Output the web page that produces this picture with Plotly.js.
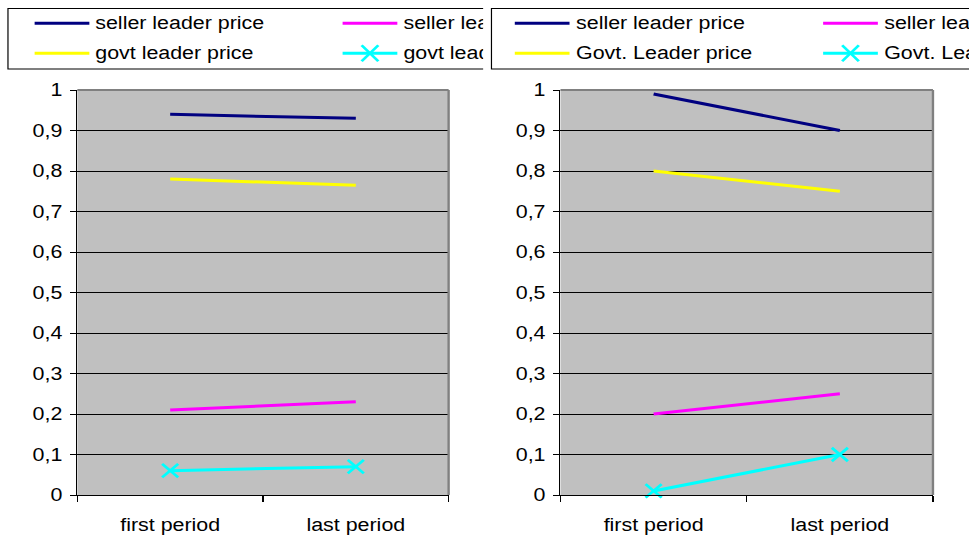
<!DOCTYPE html>
<html>
<head>
<meta charset="utf-8">
<script src="https://cdn.plot.ly/plotly-3.0.1.min.js"></script>
<style>
  html, body { margin: 0; padding: 0; background: #ffffff; overflow: hidden; }
  /* Both panels are laid out in a narrower frame and widened together. */
  #wrap { position: absolute; left: 0; top: 0; width: 815px; height: 537px;
          transform: scaleX(1.19); transform-origin: 0 0; }
  #left  { position: absolute; left: 0;     top: 0; width: 406px; height: 537px; }
  #right { position: absolute; left: 406px; top: 0; width: 410px; height: 537px; }
</style>
</head>
<body>
<div id="wrap"><div id="left"></div><div id="right"></div></div>
<script>
// ---- data ----
const periods = ['first period', 'last period'];

const leftNames  = ['seller leader price', 'seller leader qty', 'govt leader price', 'govt leader qty'];
const rightNames = ['seller leader price', 'seller leader qty', 'Govt. Leader price', 'Govt. Leader qty'];

const leftSellerPrice = [0.94, 0.93];
const leftSellerQty   = [0.21, 0.23];
const leftGovtPrice   = [0.78, 0.765];
const leftGovtQty     = [0.06, 0.07];

const rightSellerPrice = [0.99, 0.90];
const rightSellerQty   = [0.20, 0.25];
const rightGovtPrice   = [0.80, 0.75];
const rightGovtQty     = [0.01, 0.10];

const yTicks = [0, 0.1, 0.2, 0.3, 0.4, 0.5, 0.6, 0.7, 0.8, 0.9, 1];

// ---- styling ----
const seriesColors = ['#000080', '#ff00ff', '#ffff00', '#00ffff'];
const FONT = 'Liberation Sans, Arial, sans-serif';
const FS = 18;
const H = 537, PLOT_TOP = 90, PLOT_BOTTOM = 495;

function drawPanel(divId, names, values, g) {
  const plotW = g.plotW;
  const px = x => (x - g.l) / plotW;                            // frame px -> paper x
  const py = y => (PLOT_BOTTOM - y) / (PLOT_BOTTOM - PLOT_TOP); // frame px -> paper y

  const traces = values.map((v, i) => ({
    type: 'scatter',
    mode: i === 3 ? 'lines+markers' : 'lines',
    name: names[i],
    x: periods,
    y: v,
    line: { color: seriesColors[i], width: 3 },
    marker: { symbol: 'x-thin', size: 13.5, color: seriesColors[i],
              line: { color: seriesColors[i], width: 2.5 } },
    cliponaxis: false,
    hoverinfo: 'skip'
  }));

  const shapes = [
    // plot frame: grey top and right edges
    { type: 'line', xref: 'paper', yref: 'paper', x0: 0, x1: 1, y0: 1, y1: 1,
      line: { color: '#808080', width: 2 }, layer: 'above' },
    { type: 'line', xref: 'paper', yref: 'paper', x0: 1, x1: 1, y0: 0, y1: 1,
      line: { color: '#808080', width: 2 }, layer: 'above' },
    // legend box (runs past the panel edge)
    { type: 'rect', xref: 'paper', yref: 'paper',
      x0: px(g.boxX), x1: px(g.boxX + 700), y0: py(8.5), y1: py(69),
      line: { color: '#000000', width: 1 }, fillcolor: 'rgba(0,0,0,0)', layer: 'above' }
  ];
  const annotations = [];

  names.forEach((name, i) => {
    const col = i % 2, row = Math.floor(i / 2);
    const x0 = g.colX[col], x1 = x0 + 46, y = g.rowY[row];
    shapes.push({ type: 'line', xref: 'paper', yref: 'paper',
      x0: px(x0), x1: px(x1), y0: py(y), y1: py(y),
      line: { color: seriesColors[i], width: 3 }, layer: 'above' });
    if (i === 3) {
      const cx = px((x0 + x1) / 2), cy = py(y);
      [[-7, -8, 7, 8], [-7, 8, 7, -8]].forEach(d => shapes.push({
        type: 'line', xref: 'paper', yref: 'paper', xsizemode: 'pixel', ysizemode: 'pixel',
        xanchor: cx, yanchor: cy, x0: d[0], y0: d[1], x1: d[2], y1: d[3],
        line: { color: seriesColors[i], width: 2.5 }, layer: 'above' }));
    }
    annotations.push({ xref: 'paper', yref: 'paper', x: px(x1 + 3), y: py(y),
      xanchor: 'left', yanchor: 'middle', showarrow: false, text: name,
      font: { family: FONT, size: FS, color: '#000000' } });
  });

  const layout = {
    width: g.W, height: H,
    margin: { l: g.l, r: g.W - g.l - plotW, t: PLOT_TOP, b: H - PLOT_BOTTOM, pad: 0, autoexpand: false },
    paper_bgcolor: 'rgba(0,0,0,0)',
    plot_bgcolor: '#c0c0c0',
    separators: ', ',
    showlegend: false,
    font: { family: FONT, size: FS, color: '#000000' },
    xaxis: {
      type: 'category', categoryarray: periods, categoryorder: 'array',
      range: [-0.5, 1.5], tickson: 'boundaries',
      ticks: 'outside', ticklen: 6, tickwidth: 1, tickcolor: '#000000',
      showline: true, linecolor: '#000000', linewidth: 1,
      showgrid: false, zeroline: false,
      ticklabelstandoff: 13,
      tickfont: { family: FONT, size: FS, color: '#000000' }
    },
    yaxis: {
      range: [0, 1], tickmode: 'array', tickvals: yTicks,
      ticks: 'outside', ticklen: 5, tickwidth: 1, tickcolor: '#000000',
      showline: true, linecolor: '#000000', linewidth: 1,
      showgrid: true, gridcolor: '#000000', gridwidth: 1, zeroline: false,
      ticklabelstandoff: 3,
      tickfont: { family: FONT, size: FS, color: '#000000' }
    },
    shapes: shapes,
    annotations: annotations
  };

  Plotly.newPlot(divId, traces, layout, { staticPlot: true, displayModeBar: false });
}

drawPanel('left', leftNames,
  [leftSellerPrice, leftSellerQty, leftGovtPrice, leftGovtQty],
  { W: 406, l: 65.3, plotW: 312, boxX: 7, colX: [29.4, 288.2], rowY: [23.3, 53.3] });

drawPanel('right', rightNames,
  [rightSellerPrice, rightSellerQty, rightGovtPrice, rightGovtQty],
  { W: 410, l: 65.3, plotW: 313, boxX: 7.3, colX: [26.9, 286], rowY: [23.3, 53.3] });
</script>
</body>
</html>
